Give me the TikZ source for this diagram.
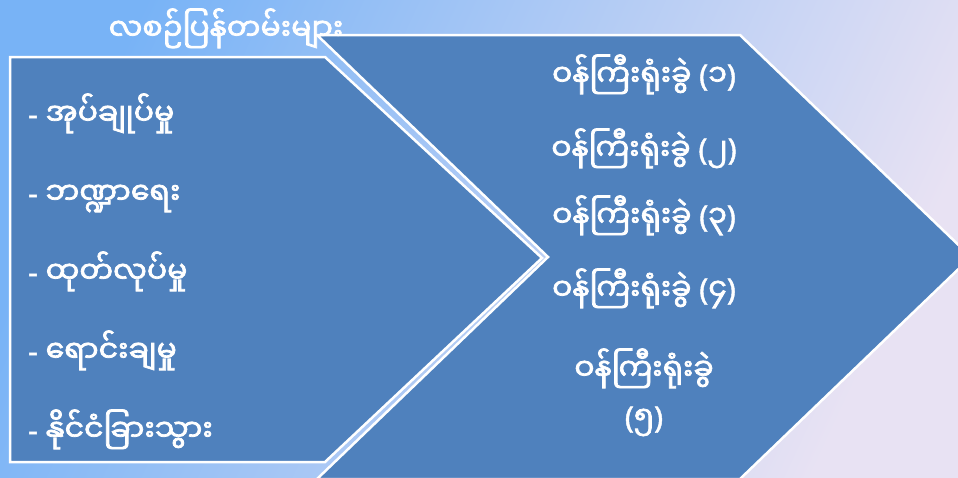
\documentclass[tikz,border=0pt]{standalone}
\usepackage{fontspec}
\newfontfamily\myfont[Script=Myanmar,FakeBold=2.5]{Noto Sans Myanmar UI}
\newfontfamily\latfont[FakeBold=1.5]{Noto Sans}
\newcommand{\lt}[1]{{\latfont #1}}
\definecolor{boxblue}{HTML}{4F81BD}
\definecolor{bgA}{HTML}{78B3F6}
\definecolor{bgB}{HTML}{E8E2F3}
\begin{document}
\begin{tikzpicture}[x=1pt,y=-1pt,
  shapebox/.style={fill=boxblue, draw=white, line width=2.5pt, line join=miter},
  mmtext/.style={text=white, inner sep=0pt, font=\myfont\fontsize{30}{34}\selectfont},
  item/.style={mmtext, anchor=base west},
  rlabel/.style={mmtext, anchor=base}]
\useasboundingbox (0,0) rectangle (958,477);
\shade[top color=bgA, bottom color=bgB, shading angle=65] (0,0) rectangle (958,477);
% chevron on the right
\draw[shapebox] (317,35) -- (740,35) -- (971,257) -- (740,479) -- (317,479) -- (548,257) -- cycle;
% pentagon on the left
\draw[shapebox] (10,57) -- (325,57) -- (542,258) -- (325,462) -- (10,462) -- cycle;
% title
\node[mmtext, anchor=base] (title) at (226,40) {လစဉ်ပြန်တမ်းများ};
% left list
\node[item] (i1) at (28,125) {\lt{-} အုပ်ချုပ်မှု};
\node[item] (i2) at (28,204) {\lt{-} ဘဏ္ဍာရေး};
\node[item] (i3) at (28,283) {\lt{-} ထုတ်လုပ်မှု};
\node[item] (i4) at (28,362) {\lt{-} ရောင်းချမှု};
\node[item] (i5) at (28,441) {\lt{-} နိုင်ငံခြားသွား};
% right list
\node[rlabel] (r1) at (644,86) {ဝန်ကြီးရုံးခွဲ \lt{(}၁\lt{)}};
\node[rlabel] (r2) at (644,160) {ဝန်ကြီးရုံးခွဲ \lt{(}၂\lt{)}};
\node[rlabel] (r3) at (644,227) {ဝန်ကြီးရုံးခွဲ \lt{(}၃\lt{)}};
\node[rlabel] (r4) at (644,300) {ဝန်ကြီးရုံးခွဲ \lt{(}၄\lt{)}};
\node[rlabel] (r5) at (644,380) {ဝန်ကြီးရုံးခွဲ};
\node[rlabel] (r5b) at (644,428) {\lt{(}၅\lt{)}};
\end{tikzpicture}
\end{document}
